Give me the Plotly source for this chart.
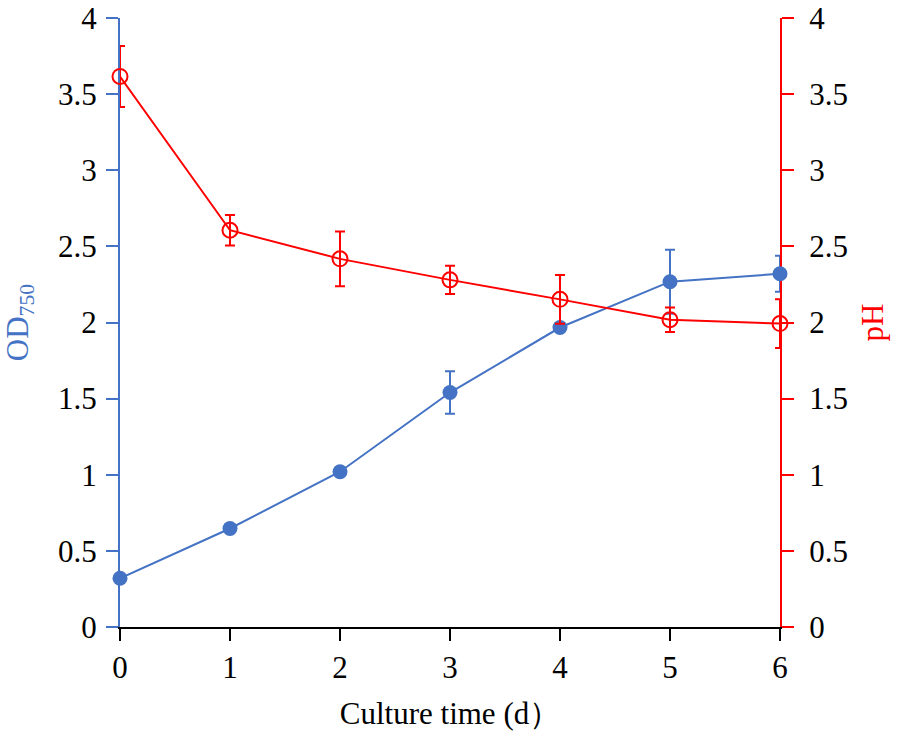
import plotly.graph_objects as go

days = [0, 1, 2, 3, 4, 5, 6]
od750 = [0.32, 0.647, 1.02, 1.54, 1.967, 2.268, 2.32]
od750_err = [0.02, 0.02, 0.03, 0.14, 0.03, 0.21, 0.118]
ph = [3.616, 2.606, 2.418, 2.28, 2.152, 2.018, 1.993]
ph_err = [0.2, 0.1, 0.18, 0.093, 0.16, 0.08, 0.16]
y_ticks = [0, 0.5, 1, 1.5, 2, 2.5, 3, 3.5, 4]
y_labels = ["0", "0.5", "1", "1.5", "2", "2.5", "3", "3.5", "4"]

BLUE = "#4472C4"
RED = "#FF0000"
FONT = "Liberation Serif"

fig = go.Figure()
fig.add_trace(go.Scatter(
    x=days, y=od750, mode="lines+markers", yaxis="y",
    line=dict(color=BLUE, width=2),
    marker=dict(color=BLUE, size=15, symbol="circle"),
    error_y=dict(type="data", array=od750_err, color=BLUE, thickness=2, width=5),
    cliponaxis=False, showlegend=False,
))
fig.add_trace(go.Scatter(
    x=days, y=ph, mode="lines+markers", yaxis="y2",
    line=dict(color=RED, width=2),
    marker=dict(color=RED, size=15, symbol="circle-open", line=dict(width=2, color=RED)),
    error_y=dict(type="data", array=ph_err, color=RED, thickness=2, width=5),
    cliponaxis=False, showlegend=False,
))

tick_font = dict(family=FONT, size=31, color="black")
fig.update_layout(
    width=898, height=739,
    margin=dict(l=120, r=118, t=18, b=112),
    plot_bgcolor="white", paper_bgcolor="white",
    font=dict(family=FONT),
    xaxis=dict(
        range=[0, 6], tickmode="linear", dtick=1, showgrid=False, zeroline=False,
        showline=True, linecolor="black", linewidth=2, automargin=False,
        ticks="outside", ticklen=12, tickwidth=2, tickcolor="black",
        tickfont=tick_font, layer="below traces",
        title=dict(text="Culture time (d）", font=dict(family=FONT, size=31, color="black"), standoff=18),
    ),
    yaxis=dict(
        range=[0, 4], tickmode="array", tickvals=y_ticks, ticktext=y_labels,
        showgrid=False, zeroline=False, automargin=False,
        showline=True, linecolor=BLUE, linewidth=2,
        ticks="outside", ticklen=12, tickwidth=2, tickcolor=BLUE,
        tickfont=tick_font, layer="below traces",
        ticklabeloverflow="allow", ticklabelstandoff=3,
        title=dict(text="OD<sub>750</sub>", font=dict(family=FONT, size=31, color=BLUE), standoff=28),
    ),
    yaxis2=dict(
        range=[0, 4], tickmode="array", tickvals=y_ticks, ticktext=y_labels,
        showgrid=False, zeroline=False, automargin=False,
        overlaying="y", side="right", anchor="x",
        showline=True, linecolor=RED, linewidth=2,
        ticks="outside", ticklen=12, tickwidth=2, tickcolor=RED,
        tickfont=tick_font, layer="below traces",
        ticklabeloverflow="allow", ticklabelstandoff=9,
        title=dict(text="pH", font=dict(family=FONT, size=31, color=RED), standoff=14),
    ),
)

fig.write_html("out.html", post_script="document.body.style.margin='0';",
               config={"displayModeBar": False})
